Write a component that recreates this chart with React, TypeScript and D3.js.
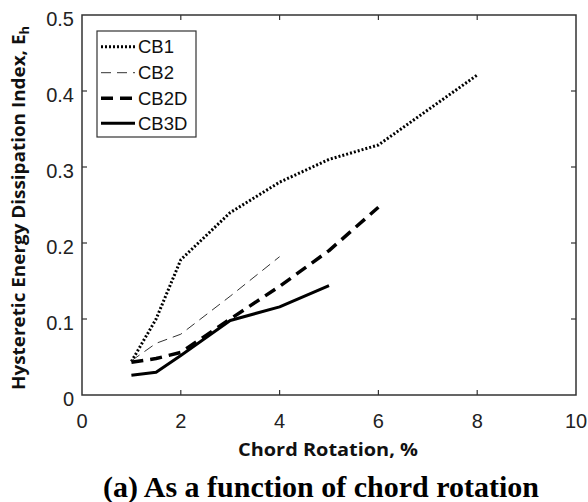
import React from "react";
import * as d3 from "d3";

const xTicks = [0, 2, 4, 6, 8, 10];
const yTicks = [0, 0.1, 0.2, 0.3, 0.4, 0.5];
const yTickLabels = ["0", "0.1", "0.2", "0.3", "0.4", "0.5"];

const cb1X = [1, 1.5, 2, 3, 4, 5, 6, 8];
const cb1Y = [0.044, 0.1, 0.178, 0.24, 0.28, 0.31, 0.329, 0.421];
const cb2X = [1, 1.5, 2, 3, 4];
const cb2Y = [0.045, 0.068, 0.08, 0.13, 0.182];
const cb2dX = [1, 1.5, 2, 3, 4, 5, 6];
const cb2dY = [0.043, 0.048, 0.056, 0.1, 0.143, 0.19, 0.247];
const cb3dX = [1, 1.5, 2, 3, 4, 5];
const cb3dY = [0.026, 0.03, 0.052, 0.098, 0.116, 0.144];

const seriesNames = ["CB1", "CB2", "CB2D", "CB3D"];

type Style = { width: number; dash: string; color: string };
const styles: Style[] = [
  { width: 3, dash: "2,2", color: "#000" },
  { width: 1, dash: "10,6", color: "#333" },
  { width: 3.5, dash: "12,7", color: "#000" },
  { width: 3, dash: "none", color: "#000" },
];

export default function App() {
  const W = 588, H = 502;
  const L = 82, R = 576, T = 15, B = 395;
  const x = d3.scaleLinear().domain([0, 10]).range([L, R]);
  const y = d3.scaleLinear().domain([0, 0.5]).range([B, T]);
  const line = d3.line<[number, number]>().x(d => x(d[0])).y(d => y(d[1]));
  const data: [number, number][][] = [
    cb1X.map((v, i) => [v, cb1Y[i]]),
    cb2X.map((v, i) => [v, cb2Y[i]]),
    cb2dX.map((v, i) => [v, cb2dY[i]]),
    cb3dX.map((v, i) => [v, cb3dY[i]]),
  ];
  const axisColor = "#333";
  const tickFont = "Liberation Sans, Arial, sans-serif";
  const titleFont = "Open Sans, sans-serif";
  const legY = [46.7, 72.7, 98.3, 123.3];
  return (
    <svg width={W} height={H} style={{ position: "absolute", left: 0, top: 0, background: "#fff" }}>
      <rect x={0} y={0} width={W} height={H} fill="#fff" />
      {data.map((d, i) => (
        <path key={i} d={line(d) || ""} fill="none" stroke={styles[i].color}
          strokeWidth={styles[i].width} strokeDasharray={styles[i].dash} strokeLinejoin="round" />
      ))}
      <rect x={L} y={T} width={R - L} height={B - T} fill="none" stroke={axisColor} strokeWidth={1.5} />
      {xTicks.map((t, i) => (
        <g key={"x" + i}>
          {t > 0 && t < 10 && <line x1={x(t)} x2={x(t)} y1={B} y2={B - 5} stroke={axisColor} strokeWidth={1.2} />}
          {t > 0 && t < 10 && <line x1={x(t)} x2={x(t)} y1={T} y2={T + 5} stroke={axisColor} strokeWidth={1.2} />}
          <text x={x(t)} y={428} textAnchor="middle" fontFamily={tickFont} fontSize={20} fill="#222">{t}</text>
        </g>
      ))}
      {yTicks.map((t, i) => (
        <g key={"y" + i}>
          {t > 0 && t < 0.5 && <line x1={L} x2={L + 5} y1={y(t)} y2={y(t)} stroke={axisColor} strokeWidth={1.2} />}
          {t > 0 && t < 0.5 && <line x1={R} x2={R - 5} y1={y(t)} y2={y(t)} stroke={axisColor} strokeWidth={1.2} />}
          <text x={74} y={y(t) + 4} dy="0.35em" textAnchor="end" fontFamily={tickFont} fontSize={20} fill="#222">{yTickLabels[i]}</text>
        </g>
      ))}
      <rect x={97} y={31} width={99} height={106} fill="#fff" stroke={axisColor} strokeWidth={1.2} />
      {seriesNames.map((n, i) => (
        <g key={n}>
          <line x1={101} x2={135} y1={legY[i]} y2={legY[i]} stroke={styles[i].color}
            strokeWidth={styles[i].width} strokeDasharray={styles[i].dash} />
          <text x={138} y={legY[i]} dy="0.35em" fontFamily={tickFont} fontSize={18.5} fill="#111">{n}</text>
        </g>
      ))}
      <text x={328} y={456} textAnchor="middle" fontFamily={titleFont} fontWeight="bold" fontSize={18.5} fill="#111"
        textLength={180} lengthAdjust="spacingAndGlyphs">Chord Rotation, %</text>
      <text transform={`translate(25,208) rotate(-90)`} textAnchor="middle" fontFamily={titleFont} fontWeight="bold" fontSize={17.5} fill="#111"
        textLength={364} lengthAdjust="spacingAndGlyphs">
        Hysteretic Energy Dissipation Index, E<tspan dy="4" fontSize={12}>h</tspan>
      </text>
      <text x={321} y={497} textAnchor="middle" fontFamily="Liberation Serif, Times New Roman, serif" fontWeight="bold" fontSize={30} fill="#000">(a) As a function of chord rotation</text>
    </svg>
  );
}
